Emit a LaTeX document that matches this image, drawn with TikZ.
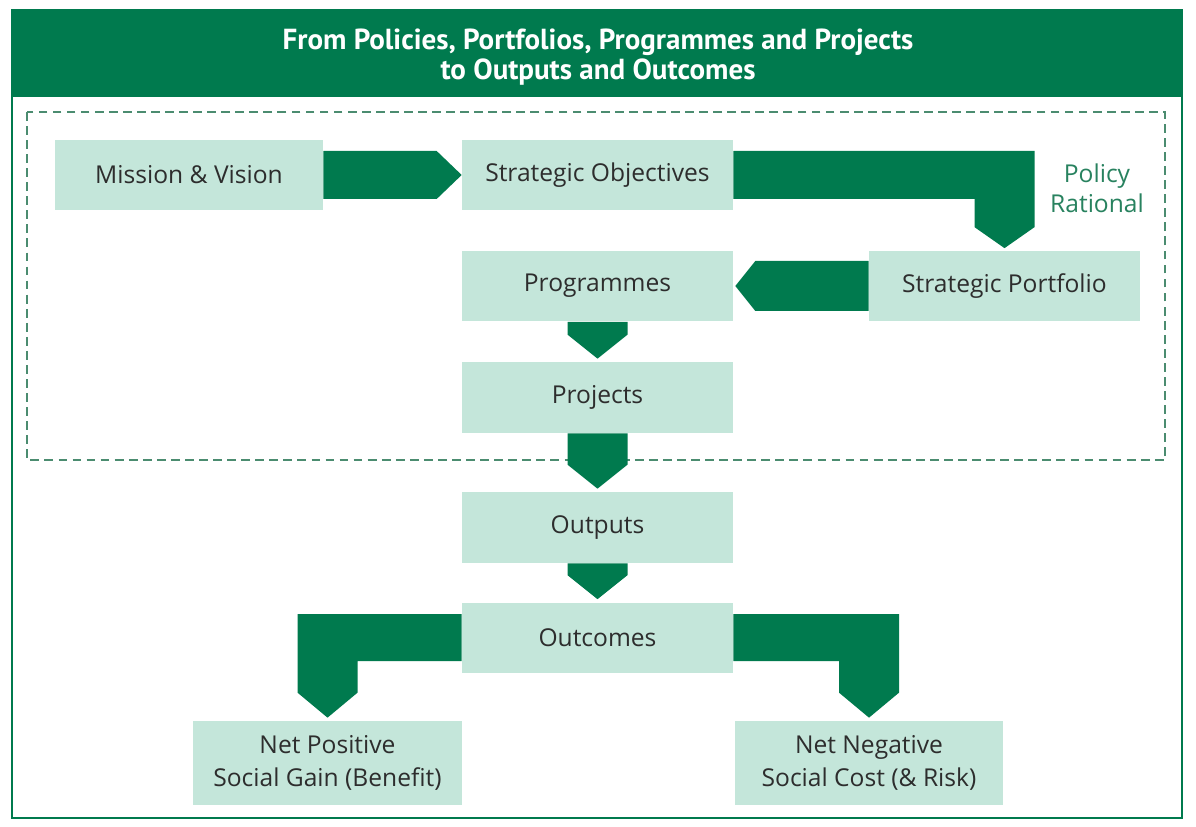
\documentclass[tikz,border=0pt]{standalone}
\usepackage{fontspec}
\setmainfont{Open Sans}
\newfontfamily\titlefont{PT Sans}
\usetikzlibrary{calc}
\definecolor{leaf}{RGB}{0,122,78}
\definecolor{mint}{RGB}{196,230,218}
\definecolor{fence}{RGB}{75,140,112}
\definecolor{ink}{RGB}{45,45,45}
\definecolor{policygreen}{RGB}{40,130,95}
\tikzset{
  stage/.style={fill=mint, text=ink, minimum width=5.42cm, minimum height=1.42cm,
      inner sep=0pt, align=center, font=\fontsize{14}{18.5}\selectfont},
  flow/.style={fill=leaf, draw=none},
}
% chevron arrow straight down between two stacked stages
\newcommand{\flowdown}[2]{%
  \fill[flow] ($(#1.south)+(-30,0)$) -- ($(#1.south)+(30,0)$)
    -- ($(#2.north)+(30,-27)$) -- ($(#2.north)+(0,-3)$)
    -- ($(#2.north)+(-30,-27)$) -- cycle;}

\begin{document}
\begin{tikzpicture}[x=0.02cm, y=-0.02cm]
  \useasboundingbox (0,0) rectangle (1196,827);
  \fill[white] (0,0) rectangle (1196,827);
  % frame and heading
  \draw[leaf, line width=1.2pt] (12,10) rectangle (1182,818);
  \fill[leaf] (12,10) rectangle (1182,97);
  \node[text=white, align=center, font=\titlefont\bfseries\fontsize{16.5}{17}\selectfont] (title) at (598,57)
    {From Policies, Portfolios, Programmes and Projects\\to Outputs and Outcomes};
  % policy zone
  \draw[fence, line width=1.6pt, dash pattern=on 5pt off 3pt] (27,112) rectangle (1165,460);
  \node[text=policygreen, align=center, font=\fontsize{14}{17}\selectfont] (policy) at (1097,188) {Policy\\Rational};
  % stages
  \node[stage, minimum width=5.36cm] (mission) at (189,175) {Mission \& Vision};
  \node[stage] (strat) at (597.5,175) {Strategic Objectives};
  \node[stage] (prog) at (597.5,286) {Programmes};
  \node[stage] (port) at (1004.5,286) {Strategic Portfolio};
  \node[stage] (proj) at (597.5,397.5) {Projects};
  \node[stage] (outp) at (597.5,527.5) {Outputs};
  \node[stage] (outc) at (597.5,638) {Outcomes};
  \node[stage, minimum width=5.38cm, minimum height=1.68cm] (gain) at (327.5,763)
    {Net Positive\\Social Gain (Benefit)};
  \node[stage, minimum width=5.38cm, minimum height=1.68cm] (cost) at (869,763)
    {Net Negative\\Social Cost (\& Risk)};
  % arrows
  \fill[flow] ($(mission.east)+(0,-24)$) -- ($(strat.west)+(-25,-24)$) -- (strat.west)
    -- ($(strat.west)+(-25,24)$) -- ($(mission.east)+(0,24)$) -- cycle;
  \coordinate (turn) at (port.north |- strat.east);
  \fill[flow] ($(strat.east)+(0,-24)$) -- ($(turn)+(30,-24)$) -- ($(port.north)+(30,-23)$)
    -- ($(port.north)+(0,-2)$) -- ($(port.north)+(-30,-23)$) -- ($(turn)+(-30,24)$)
    -- ($(strat.east)+(0,24)$) -- cycle;
  \fill[flow] ($(port.west)+(0,-25)$) -- ($(prog.east)+(22,-25)$) -- ($(prog.east)+(2,0)$)
    -- ($(prog.east)+(22,25)$) -- ($(port.west)+(0,25)$) -- cycle;
  \flowdown{prog}{proj}
  \flowdown{proj}{outp}
  \flowdown{outp}{outc}
  \coordinate (turnL) at (gain.north |- outc.west);
  \fill[flow] ($(outc.west)+(0,-24)$) -- ($(turnL)+(-30,-24)$) -- ($(gain.north)+(-30,-28)$)
    -- ($(gain.north)+(0,-3)$) -- ($(gain.north)+(30,-28)$) -- ($(turnL)+(30,23)$)
    -- ($(outc.west)+(0,23)$) -- cycle;
  \coordinate (turnR) at (cost.north |- outc.east);
  \fill[flow] ($(outc.east)+(0,-24)$) -- ($(turnR)+(30,-24)$) -- ($(cost.north)+(30,-28)$)
    -- ($(cost.north)+(0,-3)$) -- ($(cost.north)+(-30,-28)$) -- ($(turnR)+(-30,23)$)
    -- ($(outc.east)+(0,23)$) -- cycle;
\end{tikzpicture}
\end{document}
